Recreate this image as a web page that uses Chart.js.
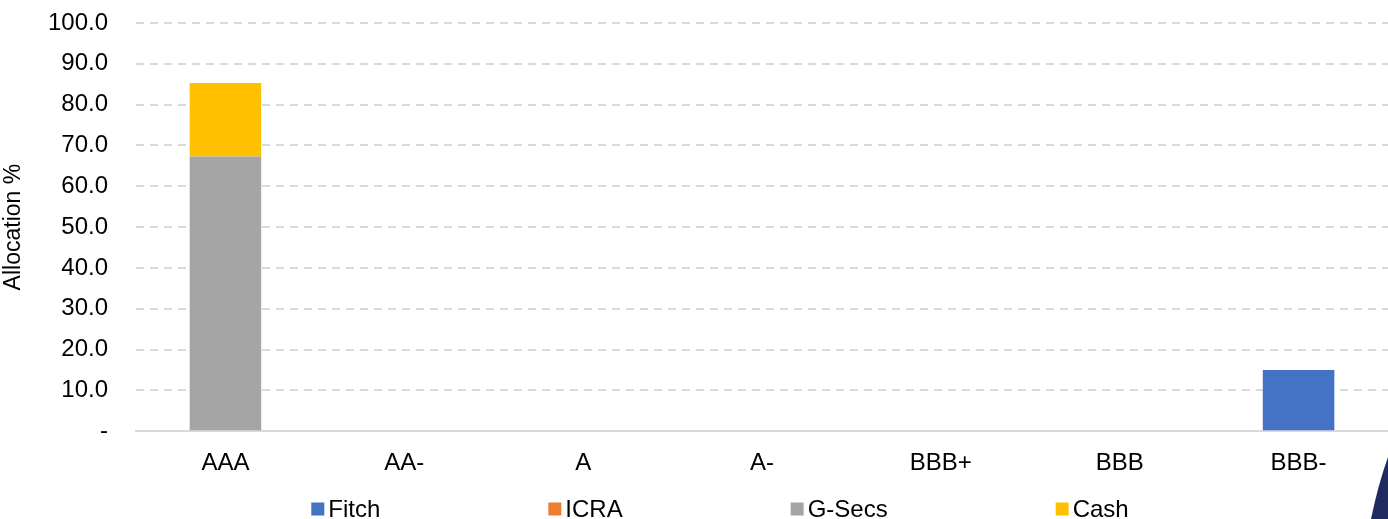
<!DOCTYPE html>
<html>
<head>
<meta charset="utf-8">
<script src="https://cdn.jsdelivr.net/npm/chart.js@4/dist/chart.umd.min.js"></script>
<style>
  html, body { margin: 0; padding: 0; background: #fff; }
  #wrap { width: 1388px; height: 519px; }
</style>
</head>
<body>
<div id="wrap"><canvas id="myChart" width="1388" height="519"></canvas></div>
<script>
// ratings on the x axis
const ratings = ['AAA', 'AA-', 'A', 'A-', 'BBB+', 'BBB', 'BBB-'];
// allocation % by source
const fitch = [0, 0, 0, 0, 0, 0, 15.0];
const icra = [0, 0, 0, 0, 0, 0, 0];
const gsecs = [67.3, 0, 0, 0, 0, 0, 0];
const cash = [18.0, 0, 0, 0, 0, 0, 0];
const yTicks = [0, 10, 20, 30, 40, 50, 60, 70, 80, 90, 100];

const font = "'Liberation Sans', Arial, sans-serif";

// legend in one row along the bottom, wide gaps like the original
const bottomLegend = {
	id: 'bottomLegend',
	afterDraw(chart) {
		const c = chart.ctx;
		const sets = chart.data.datasets;
		const box = 13, gap = 4, spacing = 168;
		c.save();
		c.font = '24px ' + font;
		let widths = sets.map(s => box + gap + c.measureText(s.label).width);
		let total = widths.reduce((a, b) => a + b, 0) + spacing * (sets.length - 1);
		let x = 720 - total / 2;
		const y = 509;
		c.textBaseline = 'middle';
		for (let i = 0; i < sets.length; i++) {
			c.fillStyle = sets[i].backgroundColor;
			c.fillRect(x, y - box / 2, box, box);
			c.fillStyle = '#000';
			c.fillText(sets[i].label, x + box + gap, y + 1);
			x += widths[i] + spacing;
		}
		// dark corner shape from the slide
		c.fillStyle = '#1f2b5e';
		c.beginPath();
		c.moveTo(1388, 457);
		c.quadraticCurveTo(1378, 485, 1371, 519);
		c.lineTo(1388, 519);
		c.closePath();
		c.fill();
		c.restore();
	}
};

const ctx = document.getElementById('myChart').getContext('2d');
const data = {
	labels: ratings,
	datasets: [
		{ label: 'Fitch', data: fitch, backgroundColor: '#4472C4' },
		{ label: 'ICRA', data: icra, backgroundColor: '#ED7D31' },
		{ label: 'G-Secs', data: gsecs, backgroundColor: '#A5A5A5' },
		{ label: 'Cash', data: cash, backgroundColor: '#FFC000' }
	]
};

const myChart = new Chart(ctx, {
	type: 'bar',
	data: data,
	plugins: [bottomLegend],
	options: {
		responsive: false,
		animation: false,
		layout: { padding: { top: 23, right: 0, left: 0, bottom: 23 } },
		datasets: {
			bar: { barPercentage: 0.4, categoryPercentage: 1.0, borderWidth: 0 }
		},
		scales: {
			x: {
				stacked: true,
				grid: { display: false, drawTicks: false },
				border: { display: true, color: '#d9d9d9', width: 2 },
				ticks: { color: '#000', font: { family: font, size: 24 }, padding: 18 },
				afterFit: function(scale) { scale.paddingLeft = 0; scale.paddingRight = 0; }
			},
			y: {
				stacked: true,
				min: 0,
				max: 100,
				afterBuildTicks: function(scale) {
					scale.ticks = yTicks.map(v => ({ value: v }));
				},
				afterFit: function(scale) {
					scale.width = 136;
					scale.paddingTop = 0;
					scale.paddingBottom = 0;
				},
				grid: { color: '#d9d9d9', lineWidth: 2, drawTicks: false },
				border: { display: false, dash: [8, 6] },
				ticks: {
					color: '#000',
					font: { family: font, size: 24 },
					padding: 28,
					callback: function(v) { return v === 0 ? '-' : v.toFixed(1); }
				},
				title: {
					display: true,
					text: 'Allocation %',
					color: '#000',
					font: { family: font, size: 23 },
					padding: 0
				}
			}
		},
		plugins: {
			tooltip: { enabled: false },
			legend: { display: false }
		}
	}
});
</script>
</body>
</html>
